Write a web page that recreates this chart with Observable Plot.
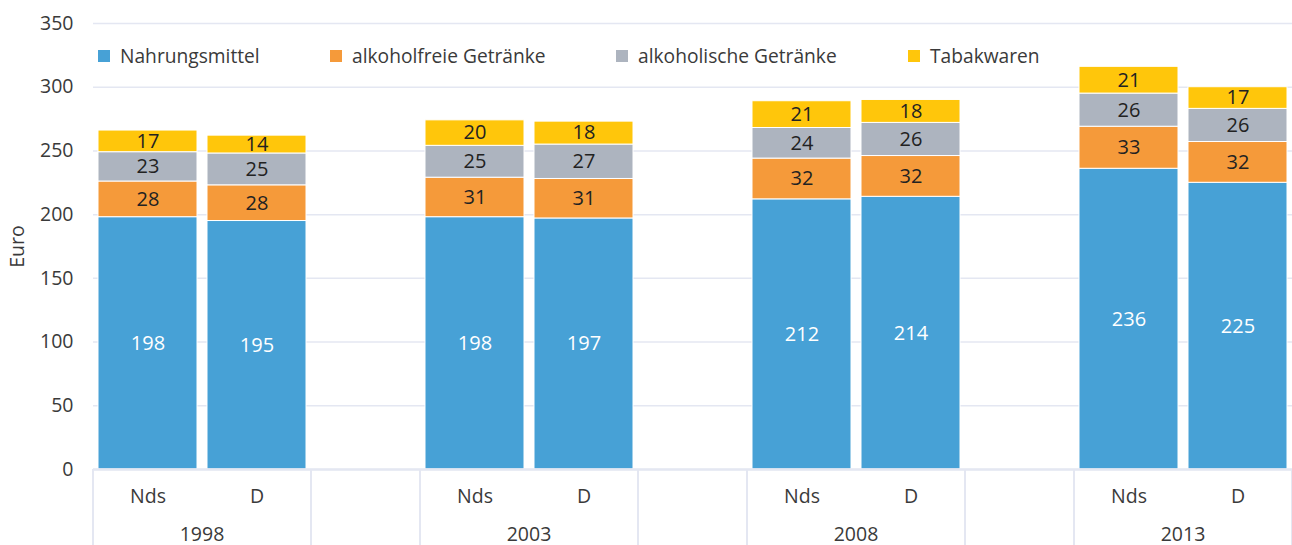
<!DOCTYPE html>
<html>
<head>
<meta charset="utf-8">
<script src="https://cdn.jsdelivr.net/npm/d3@7"></script>
<script src="https://cdn.jsdelivr.net/npm/@observablehq/plot@0.6"></script>
<style>
  body { margin: 0; background: white; }
  #wrap { position: relative; width: 1292px; height: 545px; overflow: hidden; font-family: 'Open Sans', sans-serif; }
  .lg { position: absolute; top: 42px; display: flex; align-items: center; font-size: 19.2px; color: #3a3a3a; white-space: nowrap; }
  .lg span.sw { width: 12px; height: 12px; display: inline-block; margin-right: 10px; }
</style>
</head>
<body>
<div id="wrap"><div id="chart"></div></div>
<script>
const years = ["1998", "2003", "2008", "2013"];
const regions = ["Nds", "D"];
const categories = ["Nahrungsmittel", "alkoholfreie Getränke", "alkoholische Getränke", "Tabakwaren"];
const colors = ["#47a1d6", "#f59a3a", "#adb4bf", "#ffc60b"];
// order: 1998 Nds, 1998 D, 2003 Nds, 2003 D, 2008 Nds, 2008 D, 2013 Nds, 2013 D
const nahrungsmittel = [198, 195, 198, 197, 212, 214, 236, 225];
const alkoholfrei = [28, 28, 31, 31, 32, 32, 33, 32];
const alkoholisch = [23, 25, 25, 27, 24, 26, 26, 26];
const tabakwaren = [17, 14, 20, 18, 21, 18, 21, 17];
const yTicks = [0, 50, 100, 150, 200, 250, 300, 350];
const legendLeft = [98, 330, 616, 908];

const series = [nahrungsmittel, alkoholfrei, alkoholisch, tabakwaren];
const slots = [];
years.forEach((y, i) => {
  regions.forEach(r => slots.push(y + "|" + r));
  if (i < years.length - 1) slots.push(y + "|gap");
});
const data = [];
years.forEach((y, i) => regions.forEach((r, j) => {
  const k = i * 2 + j;
  categories.forEach((c, ci) => data.push({slot: y + "|" + r, year: y, region: r, cat: c, value: series[ci][k]}));
}));

const gridColor = "#e4e7f2";
const textColor = "#3a3a3a";
const plot = Plot.plot({
  width: 1292, height: 545,
  marginLeft: 93, marginRight: 0, marginTop: 23, marginBottom: 76,
  style: {fontFamily: "'Open Sans', sans-serif", fontSize: "19.5px", color: textColor, background: "white"},
  x: {domain: slots, paddingInner: 0.09, paddingOuter: 0.045, axis: null},
  y: {domain: [0, 350], axis: null},
  color: {domain: categories, range: colors},
  marks: [
    Plot.gridY(yTicks, {stroke: gridColor, strokeOpacity: 1, strokeWidth: 1.5}),
    Plot.axisY(yTicks, {tickSize: 0, tickPadding: 20, label: "Euro", labelArrow: "none", labelAnchor: "center", labelOffset: 83, fontSize: 19.5}),
    Plot.axisX({tickSize: 0, tickPadding: 20, fontSize: 19.5, label: null,
      tickFormat: d => d.endsWith("gap") ? "" : d.split("|")[1]}),
    Plot.barY(data, Plot.stackY({x: "slot", y: "value", fill: "cat", order: categories, stroke: "white", strokeWidth: 1})),
    Plot.text(data, Plot.stackY({x: "slot", y: "value", z: "cat", order: categories,
      text: d => d.cat === categories[0] ? String(d.value) : "", fill: "white", fontSize: 20})),
    Plot.text(data, Plot.stackY({x: "slot", y: "value", z: "cat", order: categories,
      text: d => d.cat === categories[0] ? "" : String(d.value), fill: "#222222", fontSize: 20})),
    Plot.ruleY([0], {stroke: gridColor, strokeWidth: 2.5})
  ]
});
document.getElementById("chart").appendChild(plot);

// category axis separators and year labels, via the plot's own scales
const xs = plot.scale("x");
const ys = plot.scale("y");
const gap = xs.step - xs.bandwidth;
const y0 = ys.apply(0);
const svg = d3.select(plot);
const g = svg.append("g");
const bounds = [];
years.forEach(y => {
  const left = xs.apply(y + "|Nds") - gap / 2;
  const right = xs.apply(y + "|D") + xs.bandwidth + gap / 2;
  bounds.push(left, right);
  g.append("text").attr("x", (left + right) / 2).attr("y", y0 + 72)
    .attr("text-anchor", "middle").attr("fill", textColor).attr("font-size", 19.5).text(y);
});
g.selectAll("line").data(bounds).join("line")
  .attr("x1", d => d).attr("x2", d => d).attr("y1", y0).attr("y2", 545)
  .attr("stroke", gridColor).attr("stroke-width", 2);

// legend
const wrap = document.getElementById("wrap");
categories.forEach((c, i) => {
  const div = document.createElement("div");
  div.className = "lg";
  div.style.left = legendLeft[i] + "px";
  div.innerHTML = `<span class="sw" style="background:${colors[i]}"></span><span>${c}</span>`;
  wrap.appendChild(div);
});
</script>
</body>
</html>
